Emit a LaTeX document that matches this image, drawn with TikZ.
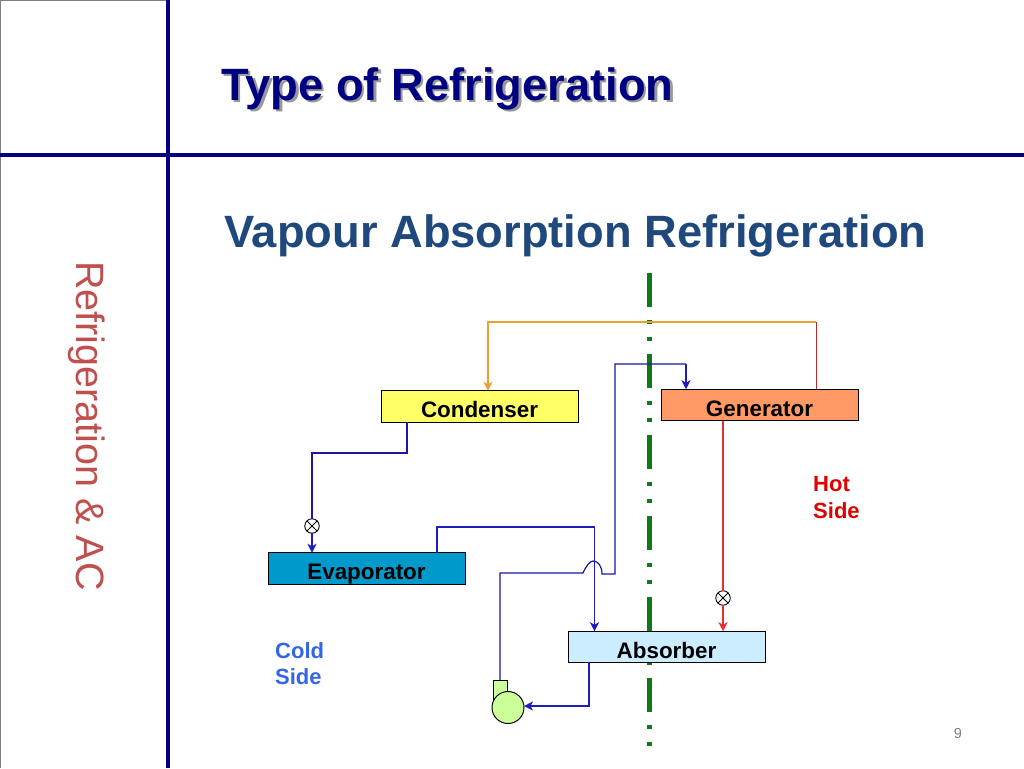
\documentclass[tikz,border=0pt]{standalone}
\usepackage{fontspec}
\setmainfont{Liberation Sans}
\usetikzlibrary{arrows.meta}
\definecolor{navyrule}{HTML}{000080}
\definecolor{subtitleblue}{HTML}{1F497D}
\definecolor{sidered}{HTML}{C0504D}
\definecolor{flowblue}{HTML}{1C1CC0}
\definecolor{flowred}{HTML}{E83030}
\definecolor{floworange}{HTML}{E8A030}
\definecolor{divider}{HTML}{0B7A17}
\tikzset{
  x=1pt,y=-1pt,
  rulebar/.style={navyrule,line width=4pt},
  boxnode/.style={draw=black,line width=1pt,minimum width=197pt,minimum height=31.5pt,inner sep=0pt,outer sep=0pt,text=black,font=\fontsize{22.4}{26}\selectfont\bfseries,text height=23pt,text depth=1pt},
  valvenode/.style={circle,draw=black,line width=0.9pt,fill=white,minimum size=14.5pt,inner sep=0pt,outer sep=0pt},
  bluearrow/.style={flowblue,line width=1.3pt,-{Stealth[length=9pt,width=9pt,inset=2.5pt]}},
  blueline/.style={flowblue!85!black,line width=1.2pt},
  redarrow/.style={flowred,line width=1.3pt,-{Stealth[length=9pt,width=9pt,inset=2.5pt]}},
  titletext/.style={anchor=base west,inner sep=0pt,font=\fontsize{45.3}{50}\selectfont\bfseries},
  sidelabel/.style={anchor=north west,inner sep=0pt,align=left,font=\fontsize{22}{26.5}\selectfont\bfseries},
}
\begin{document}
\begin{tikzpicture}
\useasboundingbox (0,0) rectangle (1024,768);
\fill[white] (0,0) rectangle (1024,768);
% frame
\draw[gray,line width=1.5pt] (0.5,768) -- (0.5,0.5) -- (168,0.5);
\draw[rulebar] (0,155) -- (1024,155);
\draw[rulebar] (168,0) -- (168,768);
% titles
\node[titletext,text=black!40] (titleshadow) at (223.5,102.5) {Type of Refrigeration};
\node[titletext,text=navyrule] (title) at (221,100) {Type of Refrigeration};
\node[titletext,text=subtitleblue] (subtitle) at (224,247) {Vapour Absorption Refrigeration};
\node[anchor=center,rotate=-90,inner sep=0pt,text=sidered,font=\fontsize{39.5}{44}\selectfont] (sidetitle) at (87,426) {Refrigeration \& AC};
% divider
\coordinate (dtop) at (649,273);
\coordinate (dbot) at (649,746);
\draw[divider,line width=5pt,dash pattern=on 34pt off 13pt on 4pt off 13pt on 4pt off 13pt] (dtop) -- (dbot);
% waypoints
\coordinate (cA) at (407,422);
\coordinate (cB) at (407,453);
\coordinate (cC) at (312,453);
\coordinate (eA) at (437,553);
\coordinate (eB) at (437,527);
\coordinate (eC) at (594.5,527);
\coordinate (pA) at (500,680);
\coordinate (pB) at (500,573);
\coordinate (pC) at (583,573);
\coordinate (pD) at (602,574);
\coordinate (pE) at (615,574);
\coordinate (pF) at (615,364);
\coordinate (pG) at (686,364);
\coordinate (aA) at (589,662);
\coordinate (aB) at (589,706);
\coordinate (gA) at (816,389);
\coordinate (gB) at (816,322);
\coordinate (gC) at (488,322);
% boxes
\node[boxnode,fill={rgb,255:red,255;green,255;blue,102}] (condenser) at (479.5,406.5) {Condenser};
\node[boxnode,fill={rgb,255:red,255;green,153;blue,102}] (generator) at (759.5,405) {Generator};
\node[boxnode,fill={rgb,255:red,0;green,153;blue,204}] (evaporator) at (366.5,568.5) {Evaporator};
\node[boxnode,fill={rgb,255:red,204;green,236;blue,255}] (absorber) at (666.5,647) {Absorber};
% pump
\draw[black,line width=0.9pt,fill={rgb,255:red,204;green,255;blue,153}] (493,700) -- (493,680.5) -- (507,680.5) -- (507,700) -- cycle;
\node[circle,draw=black,line width=1pt,fill={rgb,255:red,204;green,255;blue,153},minimum size=32pt,inner sep=0pt,outer sep=0pt] (pump) at (508,707.5) {};
% valves
\node[valvenode] (valveleft) at (312,526) {};
\draw[black,line width=0.8pt] (valveleft.45) -- (valveleft.225) (valveleft.135) -- (valveleft.315);
\node[valvenode] (valveright) at (723,598) {};
\draw[black,line width=0.8pt] (valveright.45) -- (valveright.225) (valveright.135) -- (valveright.315);
% connectors
\draw[blueline] (cA) -- (cB) -- (cC) -- (valveleft.north);
\draw[bluearrow] (valveleft.south) -- (evaporator.north -| valveleft);
\draw[bluearrow] (eA) -- (eB) -- (eC) -- (absorber.north -| eC);
\draw[blueline] (pA) -- (pB) -- (pC) .. controls (586,566) and (590,561) .. (593,561) .. controls (598,561) and (602,566) .. (pD) -- (pE) -- (pF) -- (pG);
\draw[bluearrow] (pG) -- (generator.north -| pG);
\draw[bluearrow] (aA) -- (aB) -- (pump.east |- aB);
\draw[flowred,line width=1.3pt] (generator.south -| valveright) -- (valveright.north);
\draw[redarrow] (valveright.south) -- (absorber.north -| valveright);
\draw[flowred!80!black,line width=0.9pt] (gA) -- (gB);
\draw[floworange,line width=1.1pt,-{Stealth[length=9pt,width=9pt,inset=2.5pt]}] (gB) -- (gC) -- (condenser.north -| gC);
% labels
\node[sidelabel,text={rgb,255:red,224;green,0;blue,0}] (hotside) at (813,476.5) {Hot\\Side};
\node[sidelabel,text={rgb,255:red,51;green,102;blue,230}] (coldside) at (275,642) {Cold\\Side};
\node[anchor=base,inner sep=0pt,text=black!50,font=\fontsize{14.5}{17}\selectfont] (pagenum) at (958,738) {9};
\end{tikzpicture}
\end{document}
